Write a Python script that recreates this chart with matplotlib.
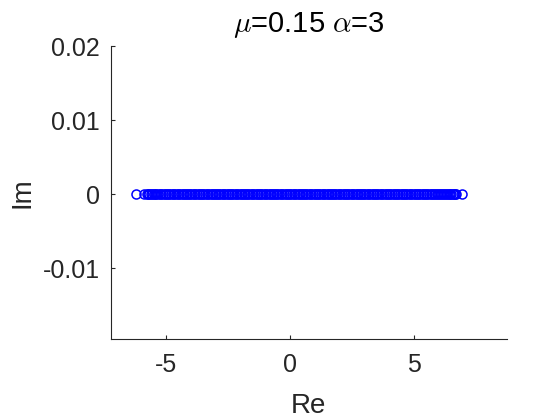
import matplotlib
matplotlib.use('Agg')
import matplotlib.pyplot as plt

# eigenvalues (all on the real axis)
re_vals = [-6.19, -5.87, -5.77, -5.71, -5.66, -5.61, -5.55, -5.49, -5.43, -5.37,
           -5.30, -5.24, -5.17, -5.11, -5.04, -4.98, -4.91, -4.85, -4.78, -4.72,
           -4.65, -4.58, -4.52, -4.45, -4.39, -4.32, -4.26, -4.19, -4.13, -4.06,
           -4.00, -3.93, -3.87, -3.80, -3.74, -3.67, -3.61, -3.54, -3.48, -3.41,
           -3.35, -3.28, -3.22, -3.15, -3.09, -3.02, -2.96, -2.89, -2.83, -2.76,
           -2.70, -2.63, -2.57, -2.50, -2.44, -2.37, -2.31, -2.24, -2.18, -2.11,
           -2.05, -1.98, -1.92, -1.85, -1.79, -1.72, -1.66, -1.59, -1.53, -1.46,
           -1.40, -1.33, -1.27, -1.20, -1.14, -1.07, -1.01, -0.94, -0.88, -0.81,
           -0.75, -0.68, -0.62, -0.55, -0.49, -0.42, -0.36, -0.29, -0.23, -0.16,
           -0.10, -0.03, 0.03, 0.10, 0.16, 0.23, 0.29, 0.36, 0.42, 0.49,
           0.55, 0.62, 0.68, 0.75, 0.81, 0.88, 0.94, 1.01, 1.07, 1.14,
           1.20, 1.27, 1.33, 1.40, 1.46, 1.53, 1.59, 1.66, 1.72, 1.79,
           1.85, 1.92, 1.98, 2.05, 2.11, 2.18, 2.24, 2.31, 2.37, 2.44,
           2.50, 2.57, 2.63, 2.70, 2.76, 2.83, 2.89, 2.96, 3.02, 3.09,
           3.15, 3.22, 3.28, 3.35, 3.41, 3.48, 3.54, 3.61, 3.67, 3.74,
           3.80, 3.87, 3.93, 4.00, 4.06, 4.13, 4.19, 4.26, 4.32, 4.39,
           4.45, 4.52, 4.58, 4.65, 4.71, 4.78, 4.84, 4.91, 4.97, 5.04,
           5.10, 5.17, 5.23, 5.30, 5.36, 5.43, 5.49, 5.56, 5.62, 5.69,
           5.75, 5.82, 5.88, 5.94, 6.00, 6.06, 6.12, 6.18, 6.24, 6.30,
           6.36, 6.42, 6.47, 6.52, 6.57, 6.62, 6.67, 6.72, 6.97]
im_vals = [0.0] * len(re_vals)

x_ticks = [-5, 0, 5]
y_ticks = [-0.01, 0, 0.01, 0.02]
y_tick_labels = ['-0.01', '0', '0.01', '0.02']

plt.rcParams['font.family'] = ['Liberation Sans', 'DejaVu Sans']
plt.rcParams['mathtext.fontset'] = 'cm'

fig = plt.figure(figsize=(5.6, 4.2), dpi=100)
ax = fig.add_axes([0.198, 0.192, 0.707, 0.698])

ax.plot(re_vals, im_vals, 'o', markerfacecolor='none', markeredgecolor='blue',
        markersize=6.5, markeredgewidth=1.1)

ax.set_xlim(-7.21, 8.76)
ax.set_ylim(-0.0196, 0.02)
ax.set_xticks(x_ticks)
ax.set_xticklabels(['-5', '0', '5'])
ax.set_yticks(y_ticks)
ax.set_yticklabels(y_tick_labels)

ax.spines['top'].set_visible(False)
ax.spines['right'].set_visible(False)
for s in ['left', 'bottom']:
    ax.spines[s].set_color('#262626')
    ax.spines[s].set_linewidth(0.8)
ax.tick_params(direction='in', length=3, width=0.8, colors='#262626',
               labelsize=18, labelcolor='#262626')
ax.tick_params(axis='x', pad=10)
ax.tick_params(axis='y', pad=8)

ax.set_xlabel('Re', fontsize=20, color='#262626', labelpad=11)
ax.set_ylabel('Im', fontsize=20, color='#262626', labelpad=5)
ax.set_title(r'$\mu$=0.15 $\alpha$=3', fontsize=21, pad=10)

fig.savefig('out.png', dpi=100)
